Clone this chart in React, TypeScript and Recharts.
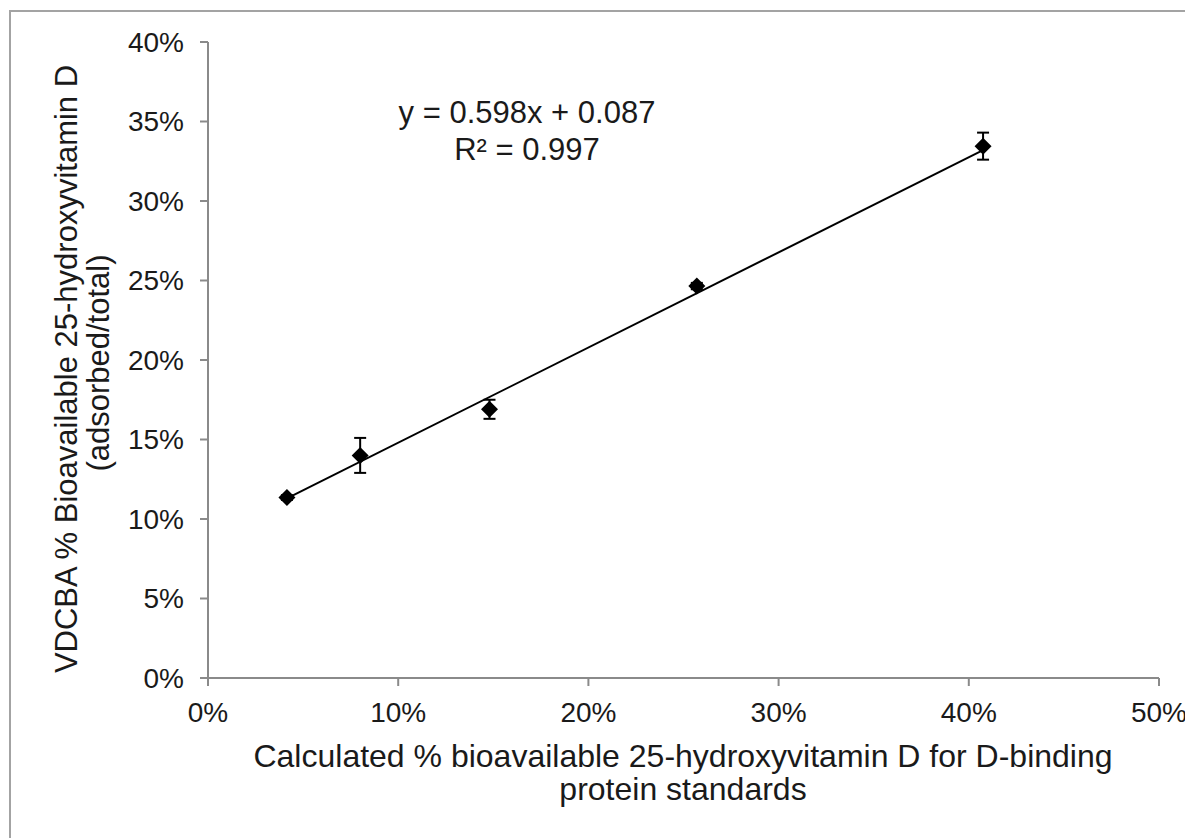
import React from "react";
import {
  ScatterChart,
  Scatter,
  XAxis,
  YAxis,
  ErrorBar,
  ReferenceLine,
  Customized,
} from "recharts";

// Calculated % bioavailable (x) vs VDCBA % bioavailable (y)
const xValues = [4.15, 8.0, 14.8, 25.7, 40.75];
const yValues = [11.35, 14.0, 16.9, 24.65, 33.45];
const yErrors = [0.15, 1.1, 0.6, 0.2, 0.85];

// Trendline end points
const trendX = [4.15, 40.75];
const trendY = [11.3, 33.2];

const xTicks = [0, 10, 20, 30, 40, 50];
const yTicks = [0, 5, 10, 15, 20, 25, 30, 35, 40];

const equationText = "y = 0.598x + 0.087";
const r2Text = "R² = 0.997";
const xTitleLines = [
  "Calculated % bioavailable 25-hydroxyvitamin D for D-binding",
  "protein standards",
];
const yTitleLines = ["VDCBA % Bioavailable 25-hydroxyvitamin D", "(adsorbed/total)"];

const data = xValues.map((x, i) => ({ x, y: yValues[i], err: yErrors[i] }));

const FONT = "'Liberation Sans', Arial, Helvetica, sans-serif";
const TEXT = "#1a1a1a";
const AXIS = "#8a8a8a";

const Diamond = (props: any) => {
  const { cx, cy } = props;
  if (cx == null || cy == null) return null;
  const r = 8.5;
  return (
    <polygon
      points={`${cx},${cy - r} ${cx + r},${cy} ${cx},${cy + r} ${cx - r},${cy}`}
      fill="#000"
    />
  );
};

const Annotations = () => (
  <g fontFamily={FONT} fill={TEXT}>
    <text x={519} y={115} textAnchor="middle" fontSize={31}>
      {equationText}
    </text>
    <text x={519} y={152} textAnchor="middle" fontSize={31}>
      {r2Text}
    </text>
    <text x={675} y={759} textAnchor="middle" fontSize={32}>
      {xTitleLines[0]}
    </text>
    <text x={675} y={792} textAnchor="middle" fontSize={32}>
      {xTitleLines[1]}
    </text>
    <text transform="rotate(-90)" x={-361} y={69} textAnchor="middle" fontSize={31}>
      {yTitleLines[0]}
    </text>
    <text transform="rotate(-90)" x={-355} y={101} textAnchor="middle" fontSize={31}>
      {yTitleLines[1]}
    </text>
  </g>
);

export default function App() {
  return (
    <div style={{ position: "relative", width: 1185, height: 830, overflow: "hidden" }}>
      <div
        style={{
          position: "absolute",
          left: 1,
          top: 2,
          width: 1400,
          height: 1000,
          borderTop: "2px solid #a3a3a3",
          borderLeft: "2px solid #a3a3a3",
        }}
      />
      <div style={{ position: "absolute", left: 0, top: 0 }}>
        <ScatterChart
          width={1185}
          height={830}
          margin={{ top: 34, right: 34, bottom: 0, left: 0 }}
        >
          <XAxis
            type="number"
            dataKey="x"
            domain={[0, 50]}
            ticks={xTicks}
            tickFormatter={(v: number) => `${v}%`}
            height={160}
            stroke={AXIS}
            strokeWidth={2}
            tickSize={8}
            tickMargin={16}
            tick={{ fill: TEXT, fontSize: 28, fontFamily: FONT }}
            interval={0}
          />
          <YAxis
            type="number"
            dataKey="y"
            domain={[0, 40]}
            ticks={yTicks}
            tickFormatter={(v: number) => `${v}%`}
            width={200}
            stroke={AXIS}
            strokeWidth={2}
            tickSize={8}
            tickMargin={16}
            tick={{ fill: TEXT, fontSize: 28, fontFamily: FONT }}
            interval={0}
          />
          <ReferenceLine
            segment={[
              { x: trendX[0], y: trendY[0] },
              { x: trendX[1], y: trendY[1] },
            ]}
            stroke="#000"
            strokeWidth={2}
            ifOverflow="visible"
          />
          <Scatter data={data} shape={Diamond} isAnimationActive={false}>
            <ErrorBar
              dataKey="err"
              direction="y"
              width={6}
              stroke="#000"
              strokeWidth={2}
              isAnimationActive={false}
            />
          </Scatter>
          <Customized component={Annotations} />
        </ScatterChart>
      </div>
    </div>
  );
}
